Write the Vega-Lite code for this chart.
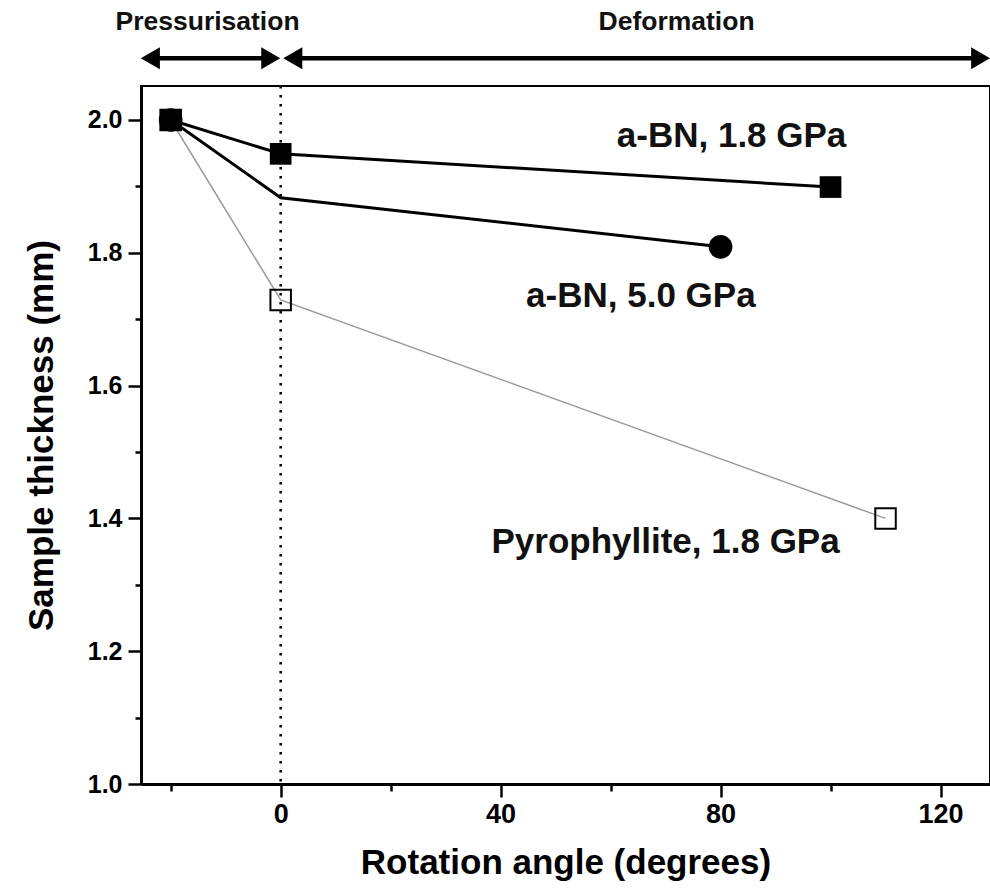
{
  "$schema": "https://vega.github.io/schema/vega-lite/v6.json",
  "width": 849,
  "height": 698,
  "autosize": "none",
  "padding": {"left": 141, "top": 86, "right": 0, "bottom": 108},
  "background": "white",
  "config": {
    "font": "Liberation Sans",
    "view": {"stroke": "black", "strokeWidth": 2},
    "axis": {
      "grid": false,
      "domainColor": "black",
      "domainWidth": 3,
      "tickColor": "black",
      "tickWidth": 2.5,
      "labelColor": "black",
      "labelFont": "Liberation Sans",
      "labelFontWeight": "bold",
      "labelFontSize": 25,
      "titleColor": "black",
      "titleFont": "Liberation Sans",
      "titleFontWeight": "bold",
      "titleFontSize": 35
    }
  },
  "datasets": {
    "pts": [
      {"series": "a-BN, 1.8 GPa", "angle": -20, "thickness": 2.0, "marker": true},
      {"series": "a-BN, 1.8 GPa", "angle": 0, "thickness": 1.949, "marker": true},
      {"series": "a-BN, 1.8 GPa", "angle": 100, "thickness": 1.899, "marker": true},
      {"series": "a-BN, 5.0 GPa", "angle": -20, "thickness": 2.0, "marker": true},
      {"series": "a-BN, 5.0 GPa", "angle": 0, "thickness": 1.883, "marker": false},
      {"series": "a-BN, 5.0 GPa", "angle": 80, "thickness": 1.809, "marker": true},
      {"series": "Pyrophyllite, 1.8 GPa", "angle": -20, "thickness": 2.0, "marker": true},
      {"series": "Pyrophyllite, 1.8 GPa", "angle": 0, "thickness": 1.729, "marker": true},
      {"series": "Pyrophyllite, 1.8 GPa", "angle": 110, "thickness": 1.40, "marker": true}
    ],
    "labels": [
      {"text": "a-BN, 1.8 GPa", "angle": 82.0, "thickness": 1.9598},
      {"text": "a-BN, 5.0 GPa", "angle": 65.5, "thickness": 1.7184},
      {"text": "Pyrophyllite, 1.8 GPa", "angle": 70.0, "thickness": 1.348}
    ],
    "phases": [
      {"phase": "Pressurisation", "angle": -23.9, "angle2": -1.8, "thickness": 2.093, "textx": -13.3, "texty": 2.1355},
      {"phase": "Deformation", "angle": 2.2, "angle2": 127.4, "thickness": 2.093, "textx": 72.0, "texty": 2.1355}
    ],
    "heads": [
      {"dir": "left", "angle": -23.7, "thickness": 2.093},
      {"dir": "right", "angle": -1.8, "thickness": 2.093},
      {"dir": "left", "angle": 2.2, "thickness": 2.093},
      {"dir": "right", "angle": 127.3, "thickness": 2.093}
    ],
    "vline": [{"angle": 0}]
  },
  "layer": [
    {
      "data": {"name": "pts"},
      "transform": [{"filter": "datum.series == 'Pyrophyllite, 1.8 GPa'"}],
      "mark": {"type": "line", "color": "#9a9a9a", "strokeWidth": 1.5},
      "encoding": {
        "x": {"field": "angle", "type": "quantitative",
              "scale": {"domain": [-25.4, 129.0], "nice": false, "zero": false},
              "axis": {"title": "Rotation angle (degrees)", "values": [-20, 0, 20, 40, 60, 80, 100, 120],
                       "labelExpr": "datum.value % 40 == 0 ? datum.label : ''",
                       "labelFontSize": 27,
                       "tickSize": {"condition": {"test": "datum.value % 40 == 0", "value": 13}, "value": 7},
                       "labelPadding": 4, "titlePadding": 18}},
        "y": {"field": "thickness", "type": "quantitative",
              "scale": {"domain": [1.0, 2.0512], "nice": false, "zero": false},
              "axis": {"title": "Sample thickness (mm)", "values": [1.0, 1.1, 1.2, 1.3, 1.4, 1.5, 1.6, 1.7, 1.8, 1.9, 2.0],
                       "labelExpr": "round(datum.value*10) % 2 == 0 ? format(datum.value, '.1f') : ''",
                       "tickSize": {"condition": {"test": "round(datum.value*10) % 2 == 0", "value": 13}, "value": 6},
                       "labelPadding": 6, "titlePadding": 28}}
      }
    },
    {
      "data": {"name": "vline"},
      "mark": {"type": "rule", "color": "black", "strokeWidth": 2.5, "strokeDash": [2.5, 6.5]},
      "encoding": {"x": {"field": "angle", "type": "quantitative"}}
    },
    {
      "data": {"name": "pts"},
      "transform": [{"filter": "datum.series == 'Pyrophyllite, 1.8 GPa'"}],
      "mark": {"type": "point", "shape": "square", "filled": false, "stroke": "black", "strokeWidth": 2, "size": 420, "opacity": 1},
      "encoding": {
        "x": {"field": "angle", "type": "quantitative"},
        "y": {"field": "thickness", "type": "quantitative"}
      }
    },
    {
      "data": {"name": "pts"},
      "transform": [{"filter": "datum.series != 'Pyrophyllite, 1.8 GPa'"}],
      "mark": {"type": "line", "color": "black", "strokeWidth": 3},
      "encoding": {
        "x": {"field": "angle", "type": "quantitative"},
        "y": {"field": "thickness", "type": "quantitative"},
        "detail": {"field": "series"}
      }
    },
    {
      "data": {"name": "pts"},
      "transform": [{"filter": "datum.series == 'a-BN, 1.8 GPa'"}],
      "mark": {"type": "point", "shape": "square", "filled": true, "color": "black", "size": 470, "opacity": 1},
      "encoding": {
        "x": {"field": "angle", "type": "quantitative"},
        "y": {"field": "thickness", "type": "quantitative"}
      }
    },
    {
      "data": {"name": "pts"},
      "transform": [{"filter": "datum.series == 'a-BN, 5.0 GPa' && datum.marker"}],
      "mark": {"type": "point", "shape": "circle", "filled": true, "color": "black", "size": 560, "opacity": 1},
      "encoding": {
        "x": {"field": "angle", "type": "quantitative"},
        "y": {"field": "thickness", "type": "quantitative"}
      }
    },
    {
      "data": {"name": "labels"},
      "mark": {"type": "text", "align": "center", "baseline": "alphabetic", "fontSize": 35, "fontWeight": "bold", "color": "#111"},
      "encoding": {
        "x": {"field": "angle", "type": "quantitative"},
        "y": {"field": "thickness", "type": "quantitative"},
        "text": {"field": "text"}
      }
    },
    {
      "data": {"name": "phases"},
      "mark": {"type": "rule", "color": "black", "strokeWidth": 4.5},
      "encoding": {
        "x": {"field": "angle", "type": "quantitative"},
        "x2": {"field": "angle2"},
        "y": {"field": "thickness", "type": "quantitative"}
      }
    },
    {
      "data": {"name": "heads"},
      "mark": {"type": "point", "filled": true, "color": "black", "size": 484, "opacity": 1},
      "encoding": {
        "x": {"field": "angle", "type": "quantitative"},
        "y": {"field": "thickness", "type": "quantitative"},
        "shape": {"field": "dir", "type": "nominal", "scale": {"domain": ["left", "right"], "range": ["triangle-left", "triangle-right"]}, "legend": null}
      }
    },
    {
      "data": {"name": "phases"},
      "mark": {"type": "text", "align": "center", "baseline": "alphabetic", "fontSize": 26.5, "fontWeight": "bold", "color": "#111"},
      "encoding": {
        "x": {"field": "textx", "type": "quantitative"},
        "y": {"field": "texty", "type": "quantitative"},
        "text": {"field": "phase"}
      }
    }
  ]
}
